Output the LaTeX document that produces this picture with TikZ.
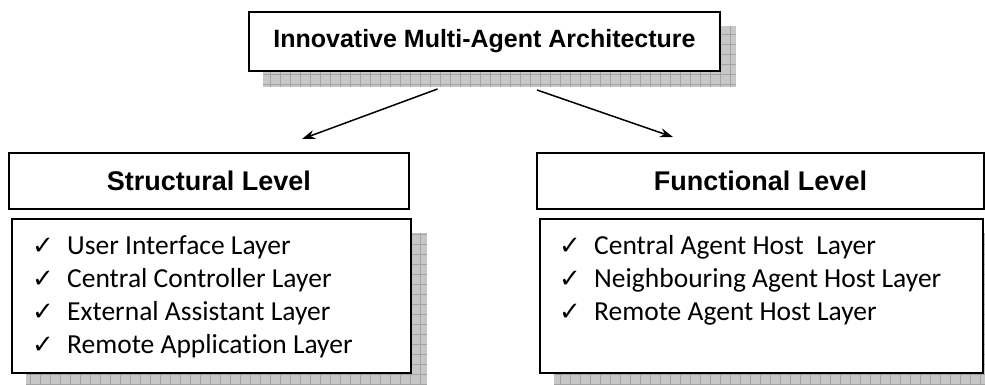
\documentclass[tikz,border=0pt]{standalone}
\usepackage{fontspec}
\setmainfont[Ligatures=NoCommon]{Carlito}
\newfontfamily\headfont{Liberation Sans}
\newfontfamily\symfont{DejaVu Sans}
\usetikzlibrary{arrows.meta,positioning,calc,backgrounds}

\newcommand{\chk}{\makebox[35pt][l]{\symfont\fontsize{26}{26}\selectfont ✓}}

% grey checkered drop shadow behind a named box
\newcommand{\boxshadow}[1]{%
  \begin{scope}[on background layer]
    \fill[shadowfill] ([shift={(15,-15)}]#1.south west) rectangle ([shift={(15,-15)}]#1.north east);
    \draw[shadowgrid] ([shift={(15,-15)}]#1.south west) grid ([shift={(15,-15)}]#1.north east);
  \end{scope}}

\begin{document}
\begin{tikzpicture}[
  x=1pt,
  y=1pt,
  box/.style={draw=black, line width=2pt, fill=white, inner sep=0pt},
  title/.style={box, font=\headfont\bfseries\fontsize{25}{28}\selectfont},
  level/.style={box, minimum height=56pt, font=\headfont\bfseries\fontsize{27}{30}\selectfont},
  listbox/.style={box, minimum height=154pt},
  item/.style={anchor=base west, inner sep=0pt, font=\fontsize{27.5}{33}\selectfont},
  arrow/.style={-{Stealth[length=13pt,width=9pt]}, line width=1.5pt},
  shadowfill/.style={fill=black!22},
  shadowgrid/.style={draw=black!36, line width=0.6pt, step=10pt}
]
  \useasboundingbox (0,0) rectangle (985,384);

  \node[title, minimum width=471pt, minimum height=59pt] (arch) at (484.5,342.5) {Innovative Multi-Agent Architecture};
  \boxshadow{arch}

  \node[level, minimum width=400pt] (structural) at (209,203) {Structural Level};
  \node[level, minimum width=447pt] (functional) at (760.5,203) {Functional Level};

  \node[listbox, minimum width=399pt] (slist) at (211.5,88) {};
  \node[listbox, minimum width=443pt] (flist) at (761.5,88) {};
  \boxshadow{slist}
  \boxshadow{flist}

  \foreach \t [count=\i] in {User Interface Layer, Central Controller Layer, External Assistant Layer, Remote Application Layer}
    \node[item] (s\i) at ($(slist.north west)+(21,{-3-33*\i})$) {\chk \t};
  \foreach \t [count=\i] in {Central Agent Host\ \ Layer, Neighbouring Agent Host Layer, Remote Agent Host Layer}
    \node[item] (f\i) at ($(flist.north west)+(20,{-3-33*\i})$) {\chk \t};

  \draw[arrow] ([xshift=-47pt,yshift=-17pt]arch.south) -- ([xshift=93pt,yshift=13pt]structural.north);
  \draw[arrow] ([xshift=52.5pt,yshift=-18pt]arch.south) -- ([xshift=-87.5pt,yshift=15pt]functional.north);
\end{tikzpicture}
\end{document}
